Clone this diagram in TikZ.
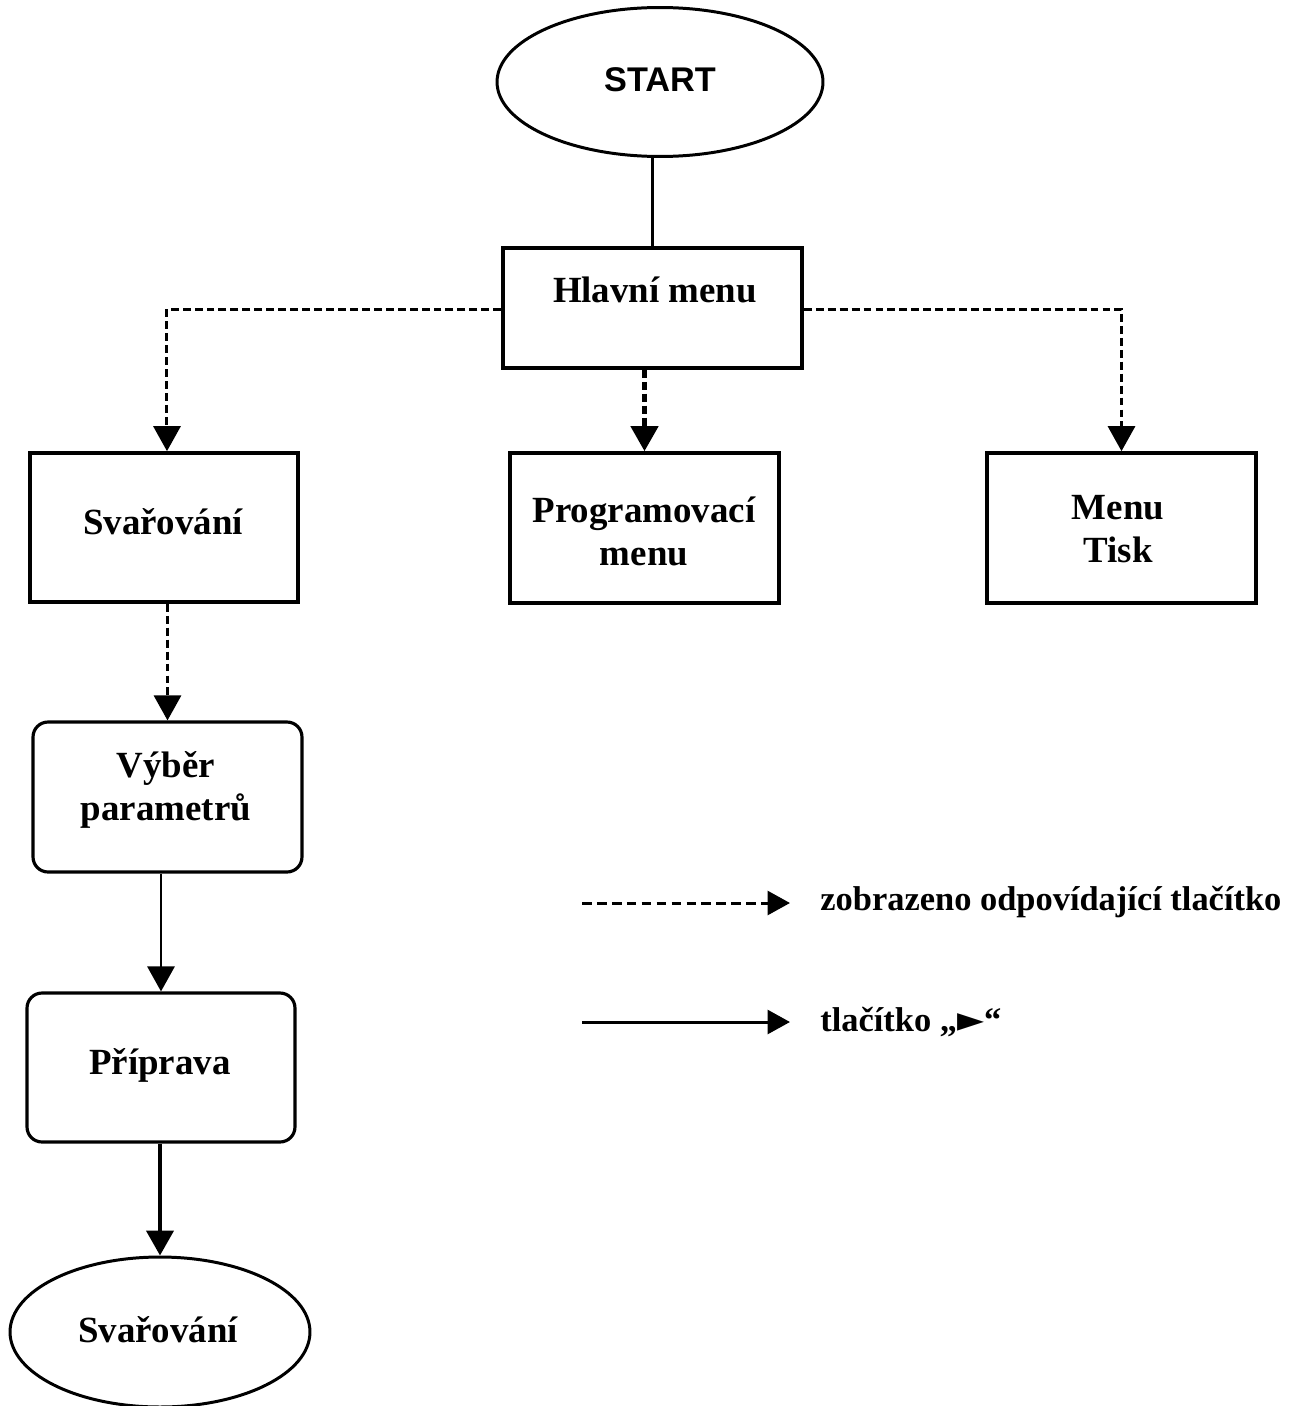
\documentclass[tikz,border=0pt]{standalone}
\usepackage{fontspec}
\setmainfont{Liberation Serif}
\newfontfamily\startfont{Liberation Sans}
\newfontfamily\symfont{DejaVu Sans}
\usetikzlibrary{arrows.meta,shapes.geometric}
\begin{document}
\begin{tikzpicture}[x=0.02cm,y=-0.02cm,
  box/.style={draw,line width=2.1pt,rectangle,inner sep=0pt},
  rbox/.style={draw,line width=1.8pt,rectangle,rounded corners=0.3cm,inner sep=0pt},
  oval/.style={draw,line width=1.7pt,ellipse,inner sep=0pt},
  lbl/.style={font=\bfseries\fontsize{21}{24.5}\selectfont,align=center,inner sep=0pt},
  legendtxt/.style={font=\bfseries\fontsize{19.6}{24}\selectfont,anchor=west,inner sep=0pt},
  tip/.style={-{Triangle[width=0.54cm,length=0.5cm]}},
  legtip/.style={-{Triangle[width=0.48cm,length=0.45cm]}},
  dashconn/.style={tip,line width=1.7pt,dash pattern=on 4.5pt off 2.3pt},
  solidconn/.style={tip,line width=1.7pt},
]
\useasboundingbox (0,0) rectangle (1301,1406);

% shapes
\node[oval,minimum width=6.52cm,minimum height=2.98cm] (start) at (660,82) {};
\node[inner sep=0pt,font=\startfont\bfseries\fontsize{19.5}{22}\selectfont] (tstart) at (660,80) {START};

\node[box,minimum width=5.98cm,minimum height=2.40cm] (hlavni) at (652.5,308) {};
\node[lbl] (thlavni) at (655,290) {Hlavní menu};

\node[box,minimum width=5.36cm,minimum height=2.98cm] (svar) at (164,527.5) {};
\node[lbl] (tsvar) at (163,522) {Svařování};

\node[box,minimum width=5.38cm,minimum height=3.00cm] (prog) at (644.5,528) {};
\node[lbl] (tprog) at (644,531) {Programovací\\menu};

\node[box,minimum width=5.38cm,minimum height=3.00cm] (tisk) at (1121.5,528) {};
\node[lbl] (ttisk) at (1118,529) {Menu\\Tisk};

\node[rbox,minimum width=5.38cm,minimum height=3.00cm] (vyber) at (167.5,797) {};
\node[lbl] (tvyber) at (166,790) {Výběr\\parametrů};

\node[rbox,minimum width=5.36cm,minimum height=2.98cm] (pripr) at (161,1067.5) {};
\node[lbl] (tpripr) at (160,1065) {Příprava};

\node[oval,minimum width=6.0cm,minimum height=3.0cm] (konec) at (160,1332) {};
\node[lbl] (tkonec) at (158,1330) {Svařování};

% connectors
\draw[line width=1.4pt] (hlavni.north |- start.south) -- (hlavni.north);
\draw[dashconn] ([yshift=-0.6pt]hlavni.west) -| ([xshift=1.7pt]svar.north);
\draw[dashconn,line width=2.6pt] (prog.north |- hlavni.south) -- (prog.north);
\draw[dashconn] ([yshift=-0.6pt]hlavni.east) -| (tisk.north);
\draw[dashconn] (vyber.north |- svar.south) -- (vyber.north);
\draw[solidconn] (pripr.north |- vyber.south) -- (pripr.north);
\draw[solidconn,line width=2.4pt] (konec.north |- pripr.south) -- (konec.north);

% legend
\coordinate (l1a) at (582,903);
\coordinate (l1b) at (790,903);
\coordinate (l2a) at (582,1022);
\coordinate (l2b) at (790,1022);
\draw[dashconn,legtip,dash pattern=on 5.5pt off 3pt] (l1a) -- (l1b);
\draw[solidconn,legtip] (l2a) -- (l2b);
\node[legendtxt] (leg1) at (820,902) {zobrazeno odpovídající tlačítko};
\node[legendtxt] (leg2) at (820,1022) {tlačítko „{\symfont\fontsize{20}{22}\selectfont ►}“};
\end{tikzpicture}
\end{document}
